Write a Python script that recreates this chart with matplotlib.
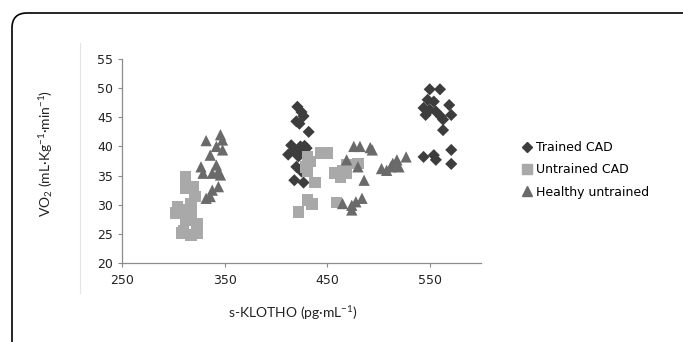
import numpy as np
import matplotlib
matplotlib.use("Agg")
import matplotlib.pyplot as plt
from matplotlib.patches import FancyBboxPatch
from matplotlib.lines import Line2D

plt.rcParams['font.family'] = ['DejaVu Sans']
plt.rcParams['mathtext.default'] = 'regular'

# s-KLOTHO (pg/mL) vs VO2
trained_x = [421, 425, 427, 420, 423, 432,
             415, 418, 420, 424, 426, 428, 412, 430, 422,
             420, 425, 418, 427,
             550, 560, 548, 554, 569, 544, 550, 556, 546, 561, 571, 563, 563,
             544, 554, 556, 571, 571]
trained_y = [46.8, 45.9, 45.2, 44.3, 43.9, 42.5,
             40.2, 39.5, 38.8, 40.0, 39.3, 40.1, 38.6, 39.7, 38.3,
             36.5, 35.7, 34.2, 33.8,
             49.8, 49.8, 48.0, 47.7, 47.1, 46.6, 46.3, 46.0, 45.4, 45.1, 45.4, 44.6, 42.8,
             38.2, 38.5, 37.7, 39.4, 37.0]

untrained_x = [312, 312, 319, 321, 317, 304, 310, 302, 317, 312, 323, 310, 308, 323, 317,
               422, 431, 435, 431, 444, 450, 433, 429, 431, 438, 459,
               457, 465, 469, 480, 463, 469]
untrained_y = [34.8, 32.8, 33.1, 31.4, 30.2, 29.6, 29.1, 28.6, 28.5, 27.3, 26.8, 25.6, 25.1, 25.1, 24.8,
               28.8, 30.8, 30.1, 38.2, 38.9, 38.9, 37.4, 36.5, 35.7, 33.8, 30.4,
               35.4, 35.9, 36.8, 37.1, 34.8, 35.4]

healthy_x = [332, 346, 348, 342, 348, 336, 327, 342, 329, 338, 344, 346, 338, 344, 336, 332,
             469, 476, 482, 492, 480, 486, 465, 474, 474, 484, 478, 494,
             503, 512, 518, 527, 514, 508, 520]
healthy_y = [41.0, 42.0, 41.1, 40.0, 39.4, 38.5, 36.5, 36.8, 35.4, 35.4, 35.7, 35.1, 32.5, 33.1, 31.4, 31.1,
             37.7, 40.0, 40.0, 39.8, 36.5, 34.2, 30.2, 29.9, 29.1, 31.1, 30.5, 39.4,
             36.2, 36.5, 37.7, 38.2, 37.1, 35.9, 36.5]

labels = ['Trained CAD', 'Untrained CAD', 'Healthy untrained']
colors = ['#3d3d3d', '#a9a9a9', '#6a6a6a']
markers = ['D', 's', '^']
sizes = [38, 70, 66]

fig = plt.figure(figsize=(6.83, 3.42), dpi=100)
ax = fig.add_axes([122 / 683, 1 - 263 / 342, (481 - 122) / 683, (263 - 59) / 342])

series = [(trained_x, trained_y), (untrained_x, untrained_y), (healthy_x, healthy_y)]
for (xs, ys), lab, c, m, s in zip(series, labels, colors, markers, sizes):
    ax.scatter(xs, ys, marker=m, s=s, c=c, edgecolors='none', label=lab, zorder=3)

ax.set_xlim(250, 600)
ax.set_ylim(20, 55)
ax.set_xticks([250, 350, 450, 550])
ax.set_yticks(np.arange(20, 56, 5))
for sp in ['top', 'right']:
    ax.spines[sp].set_visible(False)
for sp in ['left', 'bottom']:
    ax.spines[sp].set_color('#8c8c8c')
    ax.spines[sp].set_linewidth(0.9)
ax.tick_params(axis='both', direction='out', length=3, width=0.8, color='#8c8c8c',
               labelsize=9, labelcolor='#222222')
ax.tick_params(axis='x', pad=5)

fig.text(293 / 683, 1 - 313 / 342, 's-KLOTHO (pg·mL$^{-1}$)', ha='center', va='center',
         fontsize=10, family='Lato', color='#222222')
fig.text(46 / 683, 1 - 153 / 342, 'VO$_2$ (mL·Kg$^{-1}$·min$^{-1}$)', ha='center', va='center',
         rotation=90, fontsize=10, family='Lato', color='#222222')

handles = [Line2D([], [], ls='none', marker=m, color=c, markersize=ms)
           for m, c, ms in zip(markers, colors, [5.5, 7, 7])]
fig.legend(handles, labels, loc='center left', bbox_to_anchor=(516 / 683, 1 - 170 / 342),
           frameon=False, fontsize=9, handletextpad=0.2, labelspacing=0.75,
           handlelength=1.0, borderaxespad=0)

# faint chart-area edge and outer rounded frame
fig.add_artist(Line2D([80 / 683, 80 / 683], [1 - 43 / 342, 1 - 293 / 342],
                      transform=fig.transFigure, color='#e3e3e3', lw=0.8))
frame = FancyBboxPatch((12 / 683, -0.2), 1.2, 1.2 - 13 / 342,
                       boxstyle='round,pad=0,rounding_size=0.022', transform=fig.transFigure,
                       fill=False, ec='black', lw=1.2, mutation_aspect=2.0)
fig.add_artist(frame)

fig.savefig('out.png', dpi=100)
